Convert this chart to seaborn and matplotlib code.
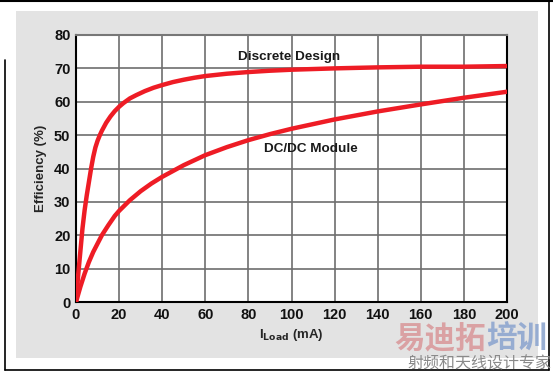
import matplotlib
matplotlib.use("Agg")
import matplotlib.pyplot as plt
import seaborn as sns
import pandas as pd
from matplotlib.patches import Rectangle
from matplotlib.lines import Line2D

# Data
discrete_x = [0, 1, 2, 3, 4, 5, 6, 7, 8, 9, 10, 11, 12, 14, 16, 18, 20, 22, 25, 28, 32, 36, 40, 45,
              50, 55, 60, 70, 80, 90, 100, 110, 120, 140, 160, 180, 200]
discrete_y = [0, 8, 15, 22, 27.5, 32, 36, 40, 43.5, 46.3, 48.3, 49.9, 51.3, 53.7, 55.6, 57.2, 58.5, 59.6,
              61.0, 62.0, 63.2, 64.2, 65.0, 65.9, 66.6, 67.2, 67.7, 68.4, 68.9, 69.3, 69.6, 69.8, 70.0,
              70.3, 70.5, 70.5, 70.7]
module_x = [0, 2, 4, 6, 8, 10, 12, 15, 18, 20, 25, 30, 35, 40, 50, 60, 70, 80, 90, 100, 120, 140, 160, 180, 200]
module_y = [0, 4.5, 8.5, 12, 15, 17.5, 20, 23, 25.8, 27.3, 30.5, 33.2, 35.5, 37.5, 41, 44, 46.4, 48.5,
            50.3, 51.9, 54.7, 57.1, 59.2, 61.2, 63]
x_ticks = [0, 20, 40, 60, 80, 100, 120, 140, 160, 180, 200]
y_ticks = [0, 10, 20, 30, 40, 50, 60, 70, 80]

df = pd.concat([
    pd.DataFrame({"ILoad": discrete_x, "Eff": discrete_y, "series": "Discrete Design"}),
    pd.DataFrame({"ILoad": module_x, "Eff": module_y, "series": "DC/DC Module"}),
])

sns.set_theme(style="white")
plt.rcParams["font.family"] = ["Liberation Sans", "Noto Sans CJK SC", "DejaVu Sans"]

W, H = 553, 375
fig = plt.figure(figsize=(W / 100, H / 100), dpi=100, facecolor="white")

# background gray panel and frame lines
fig.patches.append(Rectangle((16 / W, 1 - 358 / H), (538 - 16) / W, (358 - 11) / H,
                             transform=fig.transFigure, facecolor="#e3e3e3", edgecolor="none", zorder=-10))
fig.lines.append(Line2D([0, 1], [1 - 1 / H, 1 - 1 / H], transform=fig.transFigure, color="black", lw=1.5))
fig.lines.append(Line2D([5 / W, 5 / W], [1 - 60 / H, 1 - 370 / H], transform=fig.transFigure, color="black", lw=1.2))
fig.lines.append(Line2D([549 / W, 549 / W], [1 - 1 / H, 1 - 370 / H], transform=fig.transFigure, color="black", lw=1.2))
fig.lines.append(Line2D([5 / W, 549 / W], [1 - 370 / H, 1 - 370 / H], transform=fig.transFigure, color="black", lw=1.2))

ax = fig.add_axes([76 / W, 1 - 302 / H, (507 - 76) / W, (302 - 35) / H])
ax.set_zorder(1)
ax.set_facecolor("white")

sns.lineplot(data=df, x="ILoad", y="Eff", hue="series", palette=["#ee1c25", "#ee1c25"],
             linewidth=3.2, legend=False, ax=ax, sort=True, zorder=3)
for ln in ax.lines:
    ln.set_solid_joinstyle("round")
    ln.set_solid_capstyle("round")

ax.set_xlim(0, 200)
ax.set_ylim(0, 80)
ax.set_xticks(x_ticks)
ax.set_yticks(y_ticks)
ax.set_xticklabels([str(v) for v in x_ticks], fontweight="bold", fontsize=10.5, color="#111111")
ax.set_yticklabels([str(v) for v in y_ticks], fontweight="bold", fontsize=10.5, color="#111111")
ax.tick_params(axis="both", length=0)
ax.tick_params(axis="x", pad=4)
ax.tick_params(axis="y", pad=4)
ax.grid(True, color="#6e6e6e", lw=1.2)
ax.set_axisbelow(True)
for side in ["left", "bottom", "right"]:
    ax.spines[side].set_color("black")
    ax.spines[side].set_linewidth(1.5)
ax.spines["top"].set_color("#777777")
ax.spines["top"].set_linewidth(1.5)

ax.set_ylabel("Efficiency (%)", fontweight="bold", fontsize=9.5, labelpad=5)
ax.set_xlabel(r"I$_{\mathbf{Load}}$ (mA)", fontweight="bold", fontsize=9.5, labelpad=4)

ax.text(99, 73.4, "Discrete Design", ha="center", va="center", fontweight="bold", fontsize=9.7, color="#1a1a1a")
ax.text(109, 45.8, "DC/DC Module", ha="center", va="center", fontweight="bold", fontsize=9.7, color="#1a1a1a")

# watermark
fig.text(486 / W, 1 - 339 / H, "易迪拓", ha="right", va="center", fontsize=22, fontweight="bold",
         color="#d99a9c", family=["Noto Sans CJK SC"], alpha=0.9)
fig.text(486 / W, 1 - 339 / H, "培训", ha="left", va="center", fontsize=22, fontweight="bold",
         color="#8ea6cf", family=["Noto Sans CJK SC"], alpha=0.9)
fig.text(551 / W, 1 - 364 / H, "射频和天线设计专家", ha="right", va="center", fontsize=11.5,
         color="#8a8a8a", family=["Noto Sans CJK SC"])

fig.savefig("out.png", dpi=100, facecolor="white")
